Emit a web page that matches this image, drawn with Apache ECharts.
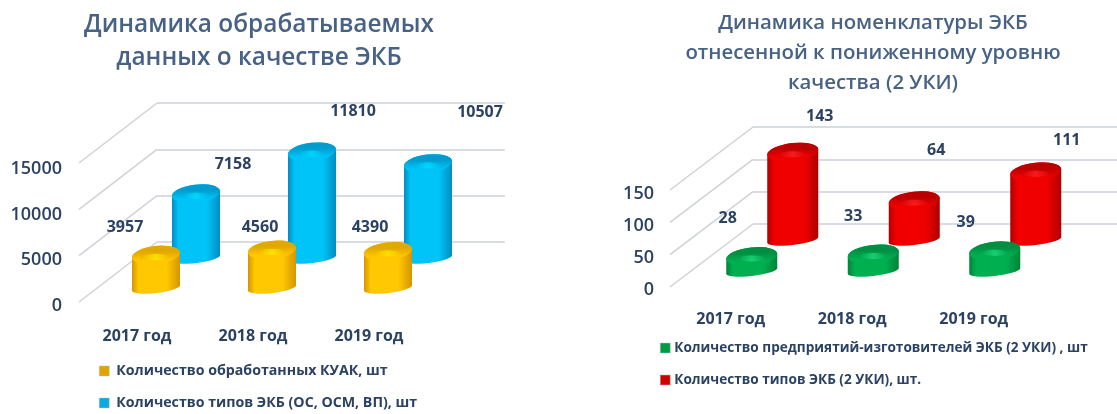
<!DOCTYPE html>
<html><head><meta charset="utf-8">
<style>html,body{margin:0;padding:0;background:#fff}#c{width:1117px;height:414px}#c canvas{filter:blur(.45px)}</style>
<script src="https://cdn.jsdelivr.net/npm/echarts@6/dist/echarts.min.js"></script>
</head><body><div id="c"></div>
<script>
const categories = ['2017 год', '2018 год', '2019 год'];
const leftTicks = [0, 5000, 10000, 15000];
const rightTicks = [0, 50, 100, 150];
const kuakCount = [3957, 4560, 4390];
const ekbTypes = [7158, 11810, 10507];
const makers2uki = [28, 33, 39];
const types2uki = [143, 64, 111];
const leftTitle = 'Динамика обрабатываемых\nданных о качестве ЭКБ';
const rightTitle = 'Динамика номенклатуры ЭКБ\nотнесенной к пониженному уровню\nкачества (2 УКИ)';
const nameKuak = 'Количество обработанных КУАК, шт';
const nameTypes = 'Количество типов ЭКБ (ОС, ОСМ, ВП), шт';
const nameMakers = 'Количество предприятий-изготовителей ЭКБ (2 УКИ) , шт';
const nameTypes2 = 'Количество типов ЭКБ (2 УКИ), шт.';

const TEXT = '#2c4263', FONT = '"Open Sans","Noto Sans",sans-serif';
const GOLD = {edge:'#d49400', mid:'#ffc800', top:'#e0a800', glow:'255,236,0', icon:'#e0a400'};
const BLUE = {edge:'#008cc0', mid:'#00c4f8', top:'#009ccf', glow:'0,226,255', icon:'#0aa8dc'};
const GREEN = {edge:'#008238', mid:'#00b050', top:'#008f42', glow:'32,224,130', icon:'#009a44'};
const RED = {edge:'#ae0000', mid:'#f00000', top:'#ba0000', glow:'255,40,40', icon:'#d00000'};

const panels = [
 {left:79, top:163, w:348, h:139, dx:78, dy:-60, max:15000, step:5000, ticks:leftTicks, rx:24, xMargin:26, yMargin:17, labelTop:169, labelH:137,
  rows:[
   {name:nameTypes, data:ekbTypes, pal:BLUE, ox:59, oy:-44, fore:.97, shift:[[37,-29],[41,-40],[52,-51]]},
   {name:nameKuak, data:kuakCount, pal:GOLD, ox:19, oy:-14, fore:.9, shift:[[-31,-28],[-12,-23],[-18,-24]]}
  ]},
 {left:670, top:190, w:364.5, h:97, dx:83, dy:-63, max:150, step:50, ticks:rightTicks, rx:25.5, xMargin:24, yMargin:16, labelTop:194, labelH:96,
  rows:[
   {name:nameTypes2, data:types2uki, pal:RED, ox:62, oy:-47, fore:.95, shift:[[27,-36],[22,-50],[31,-31]]},
   {name:nameMakers, data:makers2uki, pal:GREEN, ox:21, oy:-16, fore:.8, shift:[[-24,-38],[-20,-37],[-29,-28]]}
  ]}
];

function cylinder(row, rx){
  const ryT = 9, ryB = 5, tilt = 2.8, rot = -6.5;
  return function(params, api){
    const i = api.value(0), v = api.value(1);
    const b = api.coord([i, 0]), t = api.coord([i, v]);
    const x = b[0] + row.ox, by = b[1] + row.oy, ty = by - (b[1] - t[1]) * row.fore;
    const L = x - rx, R = x + rx, p = row.pal;
    const body = `M${L} ${by+tilt}L${L} ${ty+tilt}A${rx} ${ryT} ${rot} 0 1 ${R} ${ty-tilt}L${R} ${by-tilt}A${rx} ${ryB} ${rot} 0 1 ${L} ${by+tilt}Z`;
    const cap = `M${L} ${ty+tilt}A${rx} ${ryT} ${rot} 0 1 ${R} ${ty-tilt}A${rx} ${ryT} ${rot} 0 1 ${L} ${ty+tilt}Z`;
    const s = row.shift[params.dataIndex];
    return {type:'group', children:[
      {type:'path', shape:{pathData:body}, style:{fill:{type:'linear',x:0,y:0,x2:1,y2:0,colorStops:[
        {offset:0,color:p.edge},{offset:.14,color:p.mid},{offset:.72,color:p.mid},{offset:1,color:p.edge}]}}},
      {type:'path', shape:{pathData:cap}, style:{fill:{type:'linear',x:0,y:0,x2:0,y2:1,colorStops:[
        {offset:0,color:p.top},{offset:.3,color:p.top},{offset:.8,color:p.mid},{offset:1,color:p.mid}]}}},
      {type:'ellipse', shape:{cx:x, cy:ty+2, rx:rx*.55, ry:3}, style:{opacity:.7, fill:{type:'linear',x:0,y:0,x2:1,y2:0,colorStops:[
        {offset:0,color:`rgba(${p.glow},0)`},{offset:.5,color:`rgba(${p.glow},1)`},{offset:1,color:`rgba(${p.glow},0)`}]}}},
      {type:'text', z2:5, style:{text:String(v), x:x+s[0], y:ty+s[1], align:'center', verticalAlign:'middle',
        fill:TEXT, font:'700 16px '+FONT}}
    ]};
  };
}
function diagonal(P){
  return function(params, api){
    const a = api.coord([0, api.value(1)]);
    const x0 = P.left, y0 = a[1];
    return {type:'line', shape:{x1:x0, y1:y0, x2:x0+P.dx, y2:y0+P.dy}, style:{stroke:'#ced2d9', lineWidth:1.5}};
  };
}

const grid=[], xAxis=[], yAxis=[], series=[];
const bareX = {type:'category', data:categories, axisLine:{show:false}, axisTick:{show:false}, axisLabel:{show:false}};
panels.forEach((P)=>{
  const gf = grid.length, gb = gf+1, gl = gf+2;
  grid.push({left:P.left, top:P.top, width:P.w, height:P.h});
  grid.push({left:P.left+P.dx, top:P.top+P.dy, width:P.w, height:P.h});
  grid.push({left:P.left, top:P.labelTop, width:P.w, height:P.labelH});
  xAxis.push({type:'category', gridIndex:gf, data:categories, axisLine:{show:false}, axisTick:{show:false},
    axisLabel:{margin:P.xMargin, color:TEXT, fontFamily:FONT, fontSize:16, fontWeight:700}});
  xAxis.push(Object.assign({}, bareX, {gridIndex:gb}));
  xAxis.push(Object.assign({}, bareX, {gridIndex:gl}));
  yAxis.push({type:'value', gridIndex:gf, min:0, max:P.max, interval:P.step, axisLine:{show:false}, axisTick:{show:false}, splitLine:{show:false}, axisLabel:{show:false}});
  yAxis.push({type:'value', gridIndex:gb, min:0, max:P.max, interval:P.step, axisLine:{show:false}, axisTick:{show:false}, axisLabel:{show:false},
    splitLine:{show:true, lineStyle:{color:'#cdd1d8', width:1.5}}});
  yAxis.push({type:'value', gridIndex:gl, min:0, max:P.max, interval:P.step, axisLine:{show:false}, axisTick:{show:false}, splitLine:{show:false},
    axisLabel:{margin:P.yMargin, color:TEXT, fontFamily:FONT, fontSize:18, fontWeight:600, formatter:v=>String(v)}});
  series.push({type:'custom', xAxisIndex:gf, yAxisIndex:gf, silent:true, z:1, renderItem:diagonal(P),
    data:P.ticks.map(v=>[0,v]), encode:{x:0,y:1}, clip:false});
  P.rows.forEach((r,k)=>{
    series.push({type:'custom', name:r.name, xAxisIndex:gf, yAxisIndex:gf, z:3+k, clip:false, silent:true,
      itemStyle:{color:r.pal.icon}, renderItem:cylinder(r,P.rx),
      data:r.data.map((v,i)=>[i,v]), encode:{x:0,y:1}});
  });
});

const legendBase = {orient:'vertical', icon:'rect', itemWidth:10, itemHeight:10, padding:0, height:60, itemStyle:{borderColor:'#b8bcc4', borderWidth:.5}, selectedMode:false};
const ts = (size, gap)=>({color:TEXT, fontFamily:FONT, fontWeight:700, padding:[0,0,0,gap], fontSize:size});

const chart = echarts.init(document.getElementById('c'), null, {renderer:'canvas'});
chart.setOption({
  animation:false, backgroundColor:'#fff',
  title:[
   {text:leftTitle, left:254, top:4, textAlign:'center', textStyle:{color:'#476285', fontFamily:FONT, fontSize:24.4, fontWeight:600, lineHeight:33}},
   {text:rightTitle, left:868, top:3, textAlign:'center', textStyle:{color:'#476285', fontFamily:FONT, fontSize:20.4, fontWeight:600, lineHeight:30}}
  ],
  grid, xAxis, yAxis, series,
  legend:[
   Object.assign({}, legendBase, {left:99, top:364, itemGap:18, textStyle:ts(14.2, 2), data:[nameKuak, nameTypes]}),
   Object.assign({}, legendBase, {left:660, top:341, itemGap:18, textStyle:ts(13.6, -1), data:[nameMakers, nameTypes2]})
  ]
});
</script></body></html>
